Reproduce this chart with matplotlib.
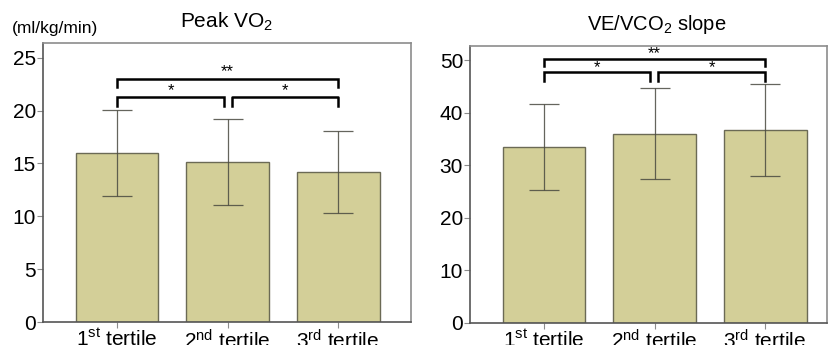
import matplotlib
matplotlib.use("Agg")
import matplotlib.pyplot as plt
import numpy as np

plt.rcParams['font.family'] = ['Liberation Sans', 'DejaVu Sans']
plt.rcParams['mathtext.fontset'] = 'custom'
plt.rcParams['mathtext.rm'] = 'Liberation Sans'
plt.rcParams['mathtext.it'] = 'Liberation Sans:italic'
plt.rcParams['mathtext.bf'] = 'Liberation Sans:bold'

categories = [r'1$^{\mathrm{st}}$ tertile', r'2$^{\mathrm{nd}}$ tertile', r'3$^{\mathrm{rd}}$ tertile']
peak_vo2 = [16.0, 15.15, 14.2]
peak_vo2_sd = [4.1, 4.1, 3.9]
ve_vco2 = [33.5, 36.05, 36.7]
ve_vco2_sd = [8.2, 8.6, 8.8]

bar_color = '#d3cf98'
edge_color = '#6b6a55'
spine_color = '#8c8c8c'

fig = plt.figure(figsize=(8.29, 3.45), dpi=100)
ax1 = fig.add_axes([43/829, 1-322/345, (411-43)/829, (322-43)/345])
ax2 = fig.add_axes([470/829, 1-322.7/345, (827-470)/829, (322.7-45.7)/345])

x = np.arange(3)

def draw(ax, vals, sds, ylim, yticks, xlim, brackets):
    ax.bar(x, vals, width=0.75, color=bar_color, edgecolor=edge_color, linewidth=1.0, zorder=2)
    ax.errorbar(x, vals, yerr=sds, fmt='none', ecolor='#4a4a40', elinewidth=0.9,
                capsize=11, capthick=0.9, zorder=3, alpha=0.85)
    ax.set_ylim(*ylim)
    ax.set_xlim(*xlim)
    ax.set_yticks(yticks)
    ax.set_xticks(x)
    ax.set_xticklabels(categories)
    ax.tick_params(axis='both', labelsize=15, colors='black', length=4, width=0.8, color=spine_color, pad=1)
    ax.tick_params(axis='x', pad=1)
    for s in ax.spines.values():
        s.set_color(spine_color)
        s.set_linewidth(1.2)
    ax.spines['left'].set_color('#555555')
    ax.spines['bottom'].set_color('#555555')
    # significance brackets
    for (x0, x1, ytop, ybot, label, ytxt) in brackets:
        ax.plot([x0, x0, x1, x1], [ybot, ytop, ytop, ybot], color='black', lw=1.8,
                solid_joinstyle='miter', zorder=4)
        ax.text((x0 + x1) / 2, ytxt, label, ha='center', va='center', fontsize=12, zorder=4)

draw(ax1, peak_vo2, peak_vo2_sd, (0, 26.4), [0, 5, 10, 15, 20, 25], (-0.67, 2.66),
     [(0, 2, 23.0, 22.2, '**', 23.65),
      (0, 0.97, 21.28, 20.45, '*', 21.85)])
draw_right = None
ax1.plot([1.04, 1.04, 2, 2], [20.45, 21.28, 21.28, 20.45], color='black', lw=1.8, zorder=4)
ax1.text(1.52, 21.85, '*', ha='center', va='center', fontsize=12, zorder=4)

draw(ax2, ve_vco2, ve_vco2_sd, (0, 52.8), [0, 10, 20, 30, 40, 50], (-0.67, 2.56),
     [(0, 2, 50.2, 48.9, '**', 51.2),
      (0, 0.96, 47.8, 46.0, '*', 48.6),
      (1.03, 2, 47.8, 46.0, '*', 48.6)])

fig.text(227/829, 1-22/345, r'Peak VO$_2$', ha='center', va='center', fontsize=15)
fig.text(12/829, 1-28/345, '(ml/kg/min)', ha='left', va='center', fontsize=12.5)
fig.text(657/829, 1-25/345, r'VE/VCO$_2$ slope', ha='center', va='center', fontsize=14.5)

fig.savefig('out.png', dpi=100)
